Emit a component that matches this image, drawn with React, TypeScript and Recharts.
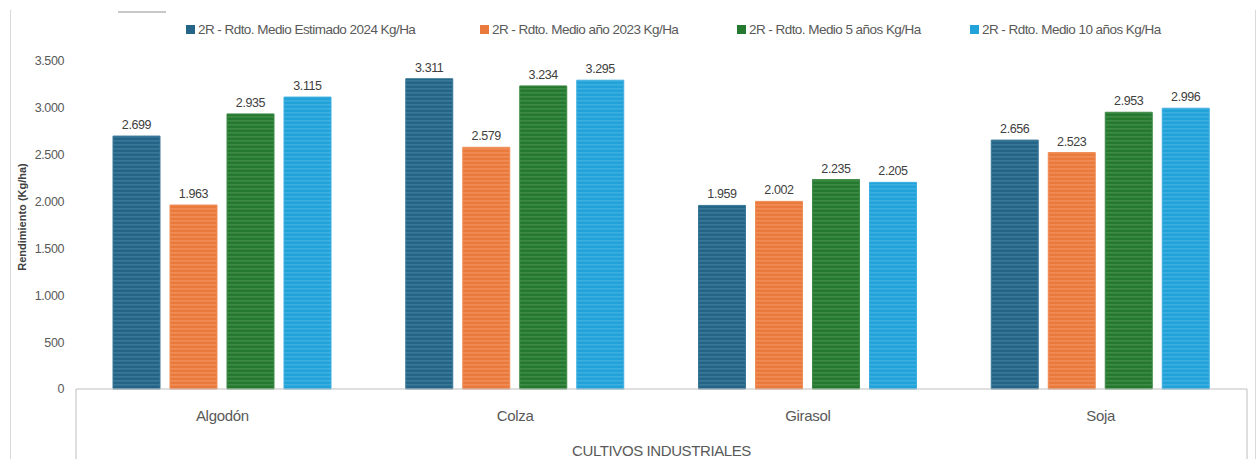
import { BarChart, Bar, XAxis, YAxis, LabelList } from 'recharts';

const cultivos = ['Algodón', 'Colza', 'Girasol', 'Soja'];
const estimado2024 = [2699, 3311, 1959, 2656];
const anio2023 = [1963, 2579, 2002, 2523];
const medio5 = [2935, 3234, 2235, 2953];
const medio10 = [3115, 3295, 2205, 2996];
const yTicks = [0, 500, 1000, 1500, 2000, 2500, 3000, 3500];

const series = [
  { key: 'e2024', name: '2R - Rdto. Medio Estimado 2024 Kg/Ha', color: '#236487', light: '#3a7898', legendX: 186 },
  { key: 'a2023', name: '2R - Rdto. Medio año 2023 Kg/Ha', color: '#ea7a3c', light: '#ef8c56', legendX: 480 },
  { key: 'm5', name: '2R - Rdto. Medio 5 años Kg/Ha', color: '#25792f', light: '#3c8a45', legendX: 737 },
  { key: 'm10', name: '2R - Rdto. Medio 10 años Kg/Ha', color: '#21a2d8', light: '#3caee0', legendX: 970 },
];

const data = cultivos.map((c, i) => ({
  name: c,
  e2024: estimado2024[i],
  a2023: anio2023[i],
  m5: medio5[i],
  m10: medio10[i],
}));

const font = "'Liberation Sans Narrow', 'Arial Narrow', 'Liberation Sans', sans-serif";

// 3311 -> "3.311"
const fmt = (v: any) => String(v).replace(/\B(?=(\d{3})+(?!\d))/g, '.');

const CategoryTick = (props: any) => {
  const { x, y, payload, index, visibleTicksCount } = props;
  const half = payload && payload.offset ? payload.offset : 146;
  return (
    <g>
      {index === 0 && <line x1={x - half} x2={x - half} y1={y} y2={459} stroke="#bfbfbf" />}
      {index === visibleTicksCount - 1 && <line x1={x + half} x2={x + half} y1={y} y2={459} stroke="#bfbfbf" />}
      <text x={x} y={y + 32} textAnchor="middle" fontSize={15} letterSpacing={-0.3} fill="#595959" fontFamily={font}>
        {payload.value}
      </text>
    </g>
  );
};

export default function App() {
  return (
    <div style={{ position: 'absolute', left: 0, top: 0, width: 1257, height: 459, background: '#fff', overflow: 'hidden' }}>
      {/* frame bits of the original sheet */}
      <div style={{ position: 'absolute', left: 10, top: 10, width: 1, height: 449, background: '#d9d9d9' }} />
      <div style={{ position: 'absolute', left: 1255, top: 10, width: 1, height: 449, background: '#d9d9d9' }} />
      <div style={{ position: 'absolute', left: 118, top: 11, width: 48, height: 2, background: '#c8c8c8' }} />
      {series.map((s) => (
        <div key={s.key} style={{ position: 'absolute', left: s.legendX, top: 19, display: 'flex', alignItems: 'center', whiteSpace: 'nowrap', fontFamily: font, fontSize: 13.5, letterSpacing: -0.55, color: '#595959', height: 20 }}>
          <span style={{ width: 9, height: 9, background: s.color, marginRight: 3, display: 'inline-block' }} />
          <span>{s.name}</span>
        </div>
      ))}
      <BarChart
        width={1257}
        height={459}
        data={data}
        margin={{ top: 61, right: 10, left: 0, bottom: 0 }}
        barSize={47}
        barGap={10}
        style={{ position: 'absolute', left: 0, top: 0 }}
      >
        <defs>
          {series.map((s) => (
            <pattern key={s.key} id={'stripe-' + s.key} width={4} height={4} patternUnits="userSpaceOnUse">
              <rect width={4} height={4} fill={s.color} />
              <rect width={4} height={1.6} fill={s.light} />
            </pattern>
          ))}
        </defs>
        <XAxis
          dataKey="name"
          height={70}
          axisLine={{ stroke: '#bfbfbf' }}
          tickLine={false}
          tickSize={0}
          tickMargin={0}
          tick={<CategoryTick />}
          interval={0}
          label={{ value: 'CULTIVOS INDUSTRIALES', position: 'insideBottom', offset: 3, fontSize: 15, letterSpacing: -0.4, fill: '#595959', fontFamily: font }}
        />
        <YAxis
          width={76}
          domain={[0, 3500]}
          ticks={yTicks}
          axisLine={false}
          tickLine={false}
          tickMargin={6}
          tickFormatter={fmt}
          tick={{ fontSize: 12.5, letterSpacing: -0.4, fill: '#595959', fontFamily: font }}
          label={(p: any) => {
            const vb = p.viewBox || { x: 0, y: 61, width: 76, height: 328 };
            const cx = 22;
            const cy = vb.y + vb.height / 2 - 8;
            return (
              <text x={cx} y={cy} transform={`rotate(-90 ${cx} ${cy})`} textAnchor="middle" dominantBaseline="central"
                fontSize={11} fontWeight="bold" fill="#404040" fontFamily="'Liberation Sans', Arial, sans-serif">
                Rendimiento (Kg/ha)
              </text>
            );
          }}
        />
        {series.map((s) => (
          <Bar key={s.key} dataKey={s.key} name={s.name} fill={`url(#stripe-${s.key})`} stroke={s.light} strokeWidth={1} isAnimationActive={false}>
            <LabelList dataKey={s.key} position="top" offset={7} formatter={fmt} fontSize={12.5} letterSpacing={-0.4} fill="#404040" fontFamily={font} />
          </Bar>
        ))}
      </BarChart>
    </div>
  );
}
